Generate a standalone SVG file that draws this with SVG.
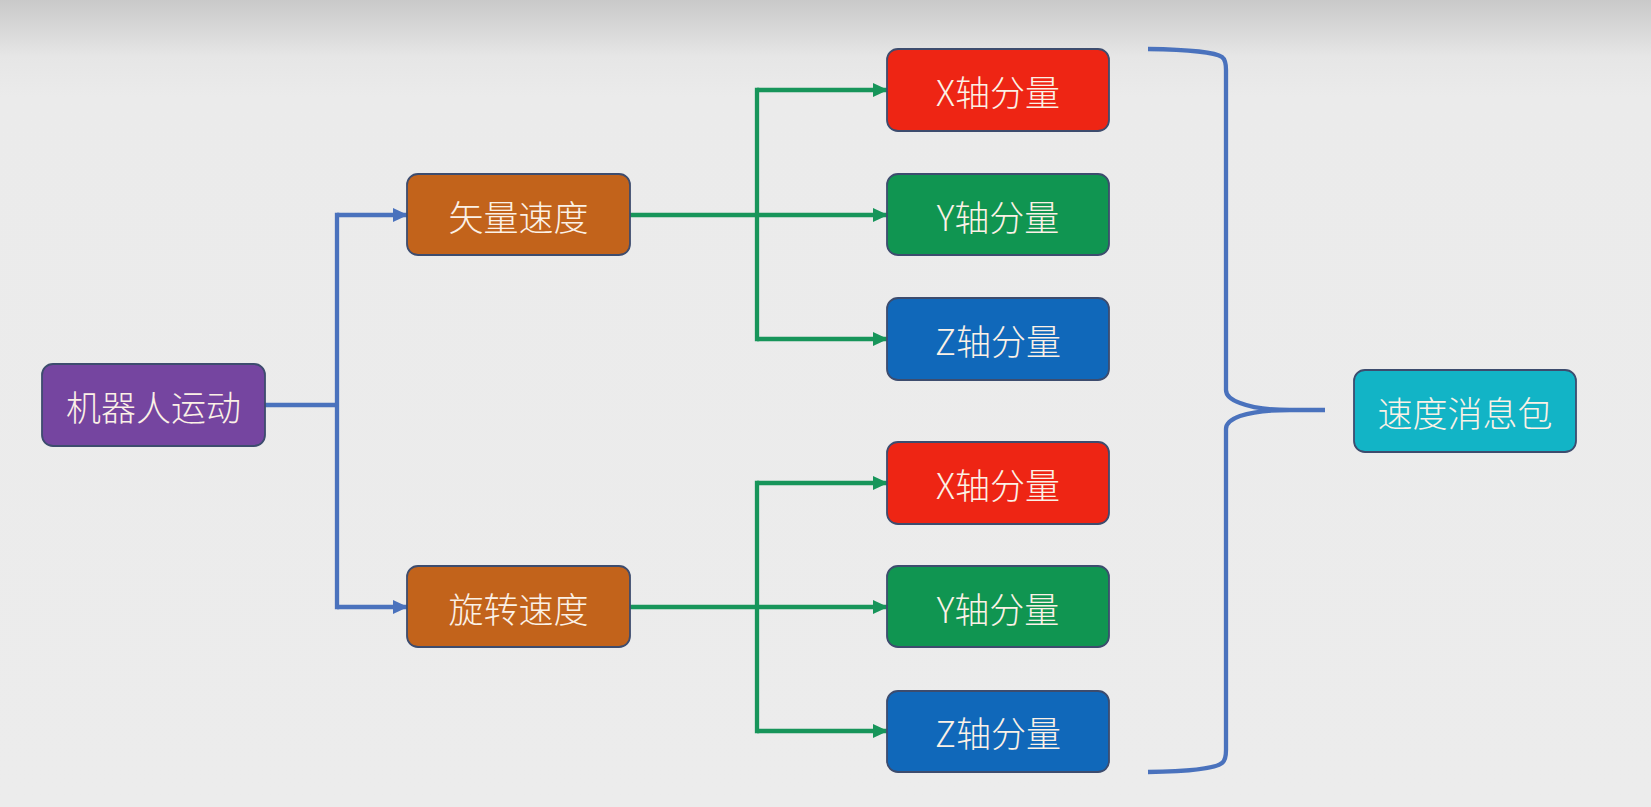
<svg xmlns="http://www.w3.org/2000/svg" width="1651" height="807" viewBox="0 0 1651 807">
  <defs>
    <linearGradient id="bg" x1="0" y1="0" x2="0" y2="1">
      <stop offset="0" stop-color="#c9c9c9"/>
      <stop offset="0.07" stop-color="#e6e6e6"/>
      <stop offset="0.12" stop-color="#ebebeb"/>
      <stop offset="1" stop-color="#ececec"/>
    </linearGradient>
    <marker id="ab" viewBox="0 0 15 14" refX="14" refY="7" markerWidth="15" markerHeight="14" orient="auto" markerUnits="userSpaceOnUse">
      <path d="M0,0 L15,7 L0,14 Z" fill="#4a72bd"/>
    </marker>
    <marker id="ag" viewBox="0 0 15 14" refX="14" refY="7" markerWidth="15" markerHeight="14" orient="auto" markerUnits="userSpaceOnUse">
      <path d="M0,0 L15,7 L0,14 Z" fill="#17955a"/>
    </marker>
  </defs>
  <style>
    .box { stroke: #3d4c6e; stroke-width: 1.8; }
    .t { font-family: "Noto Sans CJK SC", "Noto Sans", sans-serif; font-size: 35px; font-weight: 300; fill: #fbf1e6; text-anchor: middle; dominant-baseline: central; }
    .bl { fill: none; stroke: #4a72bd; stroke-width: 4.3; }
    .gl { fill: none; stroke: #17955a; stroke-width: 4.3; }
    .v { stroke-linecap: square; }
  </style>
  <rect x="0" y="0" width="1651" height="807" fill="url(#bg)"/>

  <g id="connectors">
    <path class="bl" d="M265,405 H337"/>
    <path class="bl v" d="M337,215 V607"/>
    <path class="bl" d="M337,215 H407" marker-end="url(#ab)"/>
    <path class="bl" d="M337,607 H407" marker-end="url(#ab)"/>

    <path class="gl" d="M630,215 H887" marker-end="url(#ag)"/>
    <path class="gl v" d="M757,90 V339"/>
    <path class="gl" d="M757,90 H887" marker-end="url(#ag)"/>
    <path class="gl" d="M757,339 H887" marker-end="url(#ag)"/>

    <path class="gl" d="M630,607 H887" marker-end="url(#ag)"/>
    <path class="gl v" d="M757,483 V731"/>
    <path class="gl" d="M757,483 H887" marker-end="url(#ag)"/>
    <path class="gl" d="M757,731 H887" marker-end="url(#ag)"/>

    <path class="bl" d="M1148,49 Q1212,50 1222,57 Q1226,60 1226,70 V390 Q1226,398 1240,403 Q1258,410 1290,410 H1325 M1290,410 Q1258,410 1240,416 Q1226,421 1226,429 V750 Q1226,760 1222,763 Q1212,771 1148,772"/>
  </g>

  <g id="n-robot">
    <rect class="box" x="42" y="364" width="223" height="82" rx="11" fill="#7545a0"/>
    <text class="t" x="153.5" y="405">机器人运动</text>
  </g>
  <g id="n-linear">
    <rect class="box" x="407" y="174" width="223" height="81" rx="11" fill="#c2631b"/>
    <text class="t" x="518.5" y="215">矢量速度</text>
  </g>
  <g id="n-angular">
    <rect class="box" x="407" y="566" width="223" height="81" rx="11" fill="#c2631b"/>
    <text class="t" x="518.5" y="607">旋转速度</text>
  </g>
  <g id="n-lx">
    <rect class="box" x="887" y="49" width="222" height="82" rx="11" fill="#ee2514"/>
    <text class="t" x="998" y="90">X轴分量</text>
  </g>
  <g id="n-ly">
    <rect class="box" x="887" y="174" width="222" height="81" rx="11" fill="#109551"/>
    <text class="t" x="998" y="215">Y轴分量</text>
  </g>
  <g id="n-lz">
    <rect class="box" x="887" y="298" width="222" height="82" rx="11" fill="#1068ba"/>
    <text class="t" x="998" y="339">Z轴分量</text>
  </g>
  <g id="n-ax">
    <rect class="box" x="887" y="442" width="222" height="82" rx="11" fill="#ee2514"/>
    <text class="t" x="998" y="483">X轴分量</text>
  </g>
  <g id="n-ay">
    <rect class="box" x="887" y="566" width="222" height="81" rx="11" fill="#109551"/>
    <text class="t" x="998" y="607">Y轴分量</text>
  </g>
  <g id="n-az">
    <rect class="box" x="887" y="691" width="222" height="81" rx="11" fill="#1068ba"/>
    <text class="t" x="998" y="731">Z轴分量</text>
  </g>
  <g id="n-twist">
    <rect class="box" x="1354" y="370" width="222" height="82" rx="11" fill="#12b4c6"/>
    <text class="t" x="1465" y="411">速度消息包</text>
  </g>
</svg>
